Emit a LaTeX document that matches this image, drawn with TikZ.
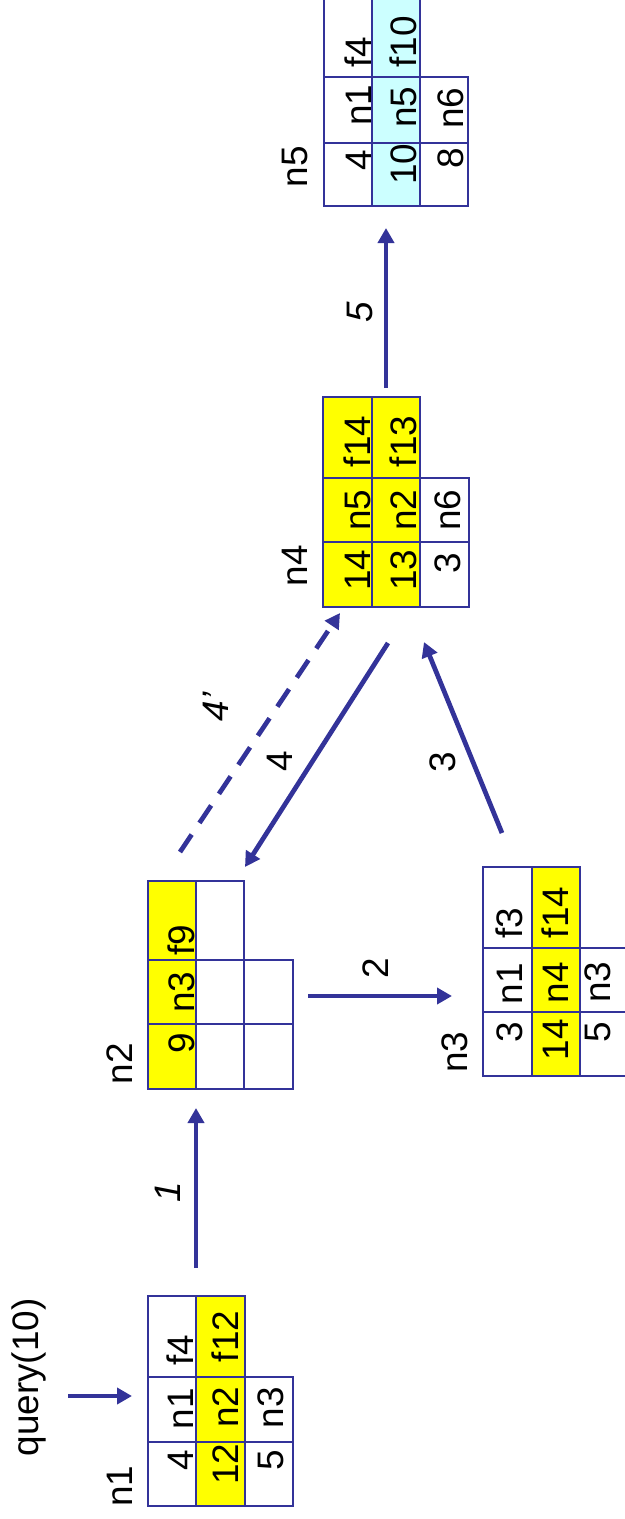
\documentclass[tikz,border=0pt]{standalone}
\usepackage{fontspec}
\setmainfont{Liberation Sans}
\usetikzlibrary{arrows.meta}
\definecolor{ink}{RGB}{51,51,153}
\definecolor{hiyellow}{RGB}{255,255,0}
\definecolor{hicyan}{RGB}{204,255,255}
% one table cell: name, x1, y1, x2, y2, fill
\newcommand\tcell[6]{%
  \node[cellbox, fill=#6, minimum width={(#4-#2)*0.02cm},
        minimum height={(#5-#3)*0.02cm}] (#1) at ({(#2+#4)/2},{(#3+#5)/2}) {};}
\begin{document}
\begin{tikzpicture}[x=0.02cm,y=-0.02cm,
  cellbox/.style={draw=ink, line width=1.6pt, inner sep=0pt, outer sep=0pt},
  txt/.style={rotate=90, anchor=base, inner sep=0pt, font=\fontsize{21}{25}\selectfont},
  steplbl/.style={txt},
  slanted/.style={font=\fontsize{21}{25}\selectfont\itshape},
  flow/.style={draw=ink, line width=2.7pt, -{Triangle[length=0.3cm,width=0.32cm]}},
]
\useasboundingbox (0,0) rectangle (625,1519);

% ---- table n1
\tcell{n1-11}{148}{1442}{196}{1506}{white}
\tcell{n1-12}{148}{1377}{196}{1442}{white}
\tcell{n1-13}{148}{1296}{196}{1377}{white}
\tcell{n1-21}{196}{1442}{245}{1506}{hiyellow}
\tcell{n1-22}{196}{1377}{245}{1442}{hiyellow}
\tcell{n1-23}{196}{1296}{245}{1377}{hiyellow}
\tcell{n1-31}{245}{1442}{293}{1506}{white}
\tcell{n1-32}{245}{1377}{293}{1442}{white}
\node[txt] (t1a) at (193,1460.5) {4};
\node[txt] (t1b) at (193,1408.5) {n1};
\node[txt] (t1c) at (193,1350) {f4};
\node[txt] (t1d) at (238,1464) {12};
\node[txt] (t1e) at (238,1407) {n2};
\node[txt] (t1f) at (238,1336.5) {f12};
\node[txt] (t1g) at (283,1460) {5};
\node[txt] (t1h) at (283,1407.5) {n3};

% ---- table n2
\tcell{n2-11}{148}{1024}{196}{1089}{hiyellow}
\tcell{n2-12}{148}{960}{196}{1024}{hiyellow}
\tcell{n2-13}{148}{881}{196}{960}{hiyellow}
\tcell{n2-21}{196}{1024}{244}{1089}{white}
\tcell{n2-22}{196}{960}{244}{1024}{white}
\tcell{n2-23}{196}{881}{244}{960}{white}
\tcell{n2-31}{244}{1024}{293}{1089}{white}
\tcell{n2-32}{244}{960}{293}{1024}{white}
\node[txt] (t2a) at (194,1043) {9};
\node[txt] (t2b) at (194,992) {n3};
\node[txt] (t2c) at (194,940) {f9};

% ---- table n3
\tcell{n3-11}{483}{1012}{532}{1076}{white}
\tcell{n3-12}{483}{948}{532}{1012}{white}
\tcell{n3-13}{483}{867}{532}{948}{white}
\tcell{n3-21}{532}{1012}{580}{1076}{hiyellow}
\tcell{n3-22}{532}{948}{580}{1012}{hiyellow}
\tcell{n3-23}{532}{867}{580}{948}{hiyellow}
\tcell{n3-31}{580}{1012}{629}{1076}{white}
\tcell{n3-32}{580}{948}{629}{1012}{white}
\node[txt] (t3a) at (522,1032) {3};
\node[txt] (t3b) at (522,983.5) {n1};
\node[txt] (t3c) at (522,923.5) {f3};
\node[txt] (t3d) at (568,1039.5) {14};
\node[txt] (t3e) at (568,982.5) {n4};
\node[txt] (t3f) at (568,912.5) {f14};
\node[txt] (t3g) at (610,1032) {5};
\node[txt] (t3h) at (610,982) {n3};

% ---- table n4
\tcell{n4-11}{323}{542}{372}{607}{hiyellow}
\tcell{n4-12}{323}{478}{372}{542}{hiyellow}
\tcell{n4-13}{323}{397}{372}{478}{hiyellow}
\tcell{n4-21}{372}{542}{420}{607}{hiyellow}
\tcell{n4-22}{372}{478}{420}{542}{hiyellow}
\tcell{n4-23}{372}{397}{420}{478}{hiyellow}
\tcell{n4-31}{420}{542}{469}{607}{white}
\tcell{n4-32}{420}{478}{469}{542}{white}
\node[txt] (t4a) at (370,570) {14};
\node[txt] (t4b) at (370,510) {n5};
\node[txt] (t4c) at (370,441.5) {f14};
\node[txt] (t4d) at (416,570) {13};
\node[txt] (t4e) at (416,510) {n2};
\node[txt] (t4f) at (416,441.5) {f13};
\node[txt] (t4g) at (460,563) {3};
\node[txt] (t4h) at (460,510) {n6};

% ---- table n5
\tcell{n5-11}{324}{143}{372}{206}{white}
\tcell{n5-12}{324}{77}{372}{143}{white}
\tcell{n5-13}{324}{-4}{372}{77}{white}
\tcell{n5-21}{372}{143}{420}{206}{hicyan}
\tcell{n5-22}{372}{77}{420}{143}{hicyan}
\tcell{n5-23}{372}{-4}{420}{77}{hicyan}
\tcell{n5-31}{420}{143}{468}{206}{white}
\tcell{n5-32}{420}{77}{468}{143}{white}
\node[txt] (t5a) at (371,160) {4};
\node[txt] (t5b) at (371,105) {n1};
\node[txt] (t5c) at (371,52) {f4};
\node[txt] (t5d) at (416,164) {10};
\node[txt] (t5e) at (416,107) {n5};
\node[txt] (t5f) at (416,42) {f10};
\node[txt] (t5g) at (463,158) {8};
\node[txt] (t5h) at (463,108) {n6};

% ---- table names and query
\node[txt] (query) at (38,1377.5) {query(10)};
\node[txt] (name1) at (132,1486) {n1};
\node[txt] (name2) at (132,1063.5) {n2};
\node[txt] (name3) at (467,1052) {n3};
\node[txt] (name4) at (307,565.5) {n4};
\node[txt] (name5) at (307,166.5) {n5};

% ---- message arrows
\coordinate (q0) at (68,1396);   \coordinate (q1) at (132,1396);
\coordinate (a1s) at (196,1268); \coordinate (a1e) at (196,1108);
\coordinate (a2s) at (308,996);  \coordinate (a2e) at (452,996);
\coordinate (a3s) at (502,833);  \coordinate (a3e) at (424,642);
\coordinate (a4s) at (388,643);  \coordinate (a4e) at (245,867);
\coordinate (b4s) at (180,852);  \coordinate (b4e) at (340,613);
\coordinate (a5s) at (386,388);  \coordinate (a5e) at (386,228);

\draw[flow] (q0) -- (q1);
\draw[flow] (a1s) -- (a1e);
\draw[flow] (a2s) -- (a2e);
\draw[flow] (a3s) -- (a3e);
\draw[flow] (a4s) -- (a4e);
\draw[flow, dash pattern=on 0.42cm off 0.28cm] (b4s) -- (b4e);
\draw[flow] (a5s) -- (a5e);

\node[steplbl, slanted] (l1) at (180,1192) {1};
\node[steplbl] (l2) at (388,968) {2};
\node[steplbl] (l3) at (455,762) {3};
\node[steplbl] (l4) at (292,761) {4};
\node[steplbl, slanted] (l4p) at (228,707) {4’};
\node[steplbl, slanted] (l5) at (372,312) {5};
\end{tikzpicture}
\end{document}
